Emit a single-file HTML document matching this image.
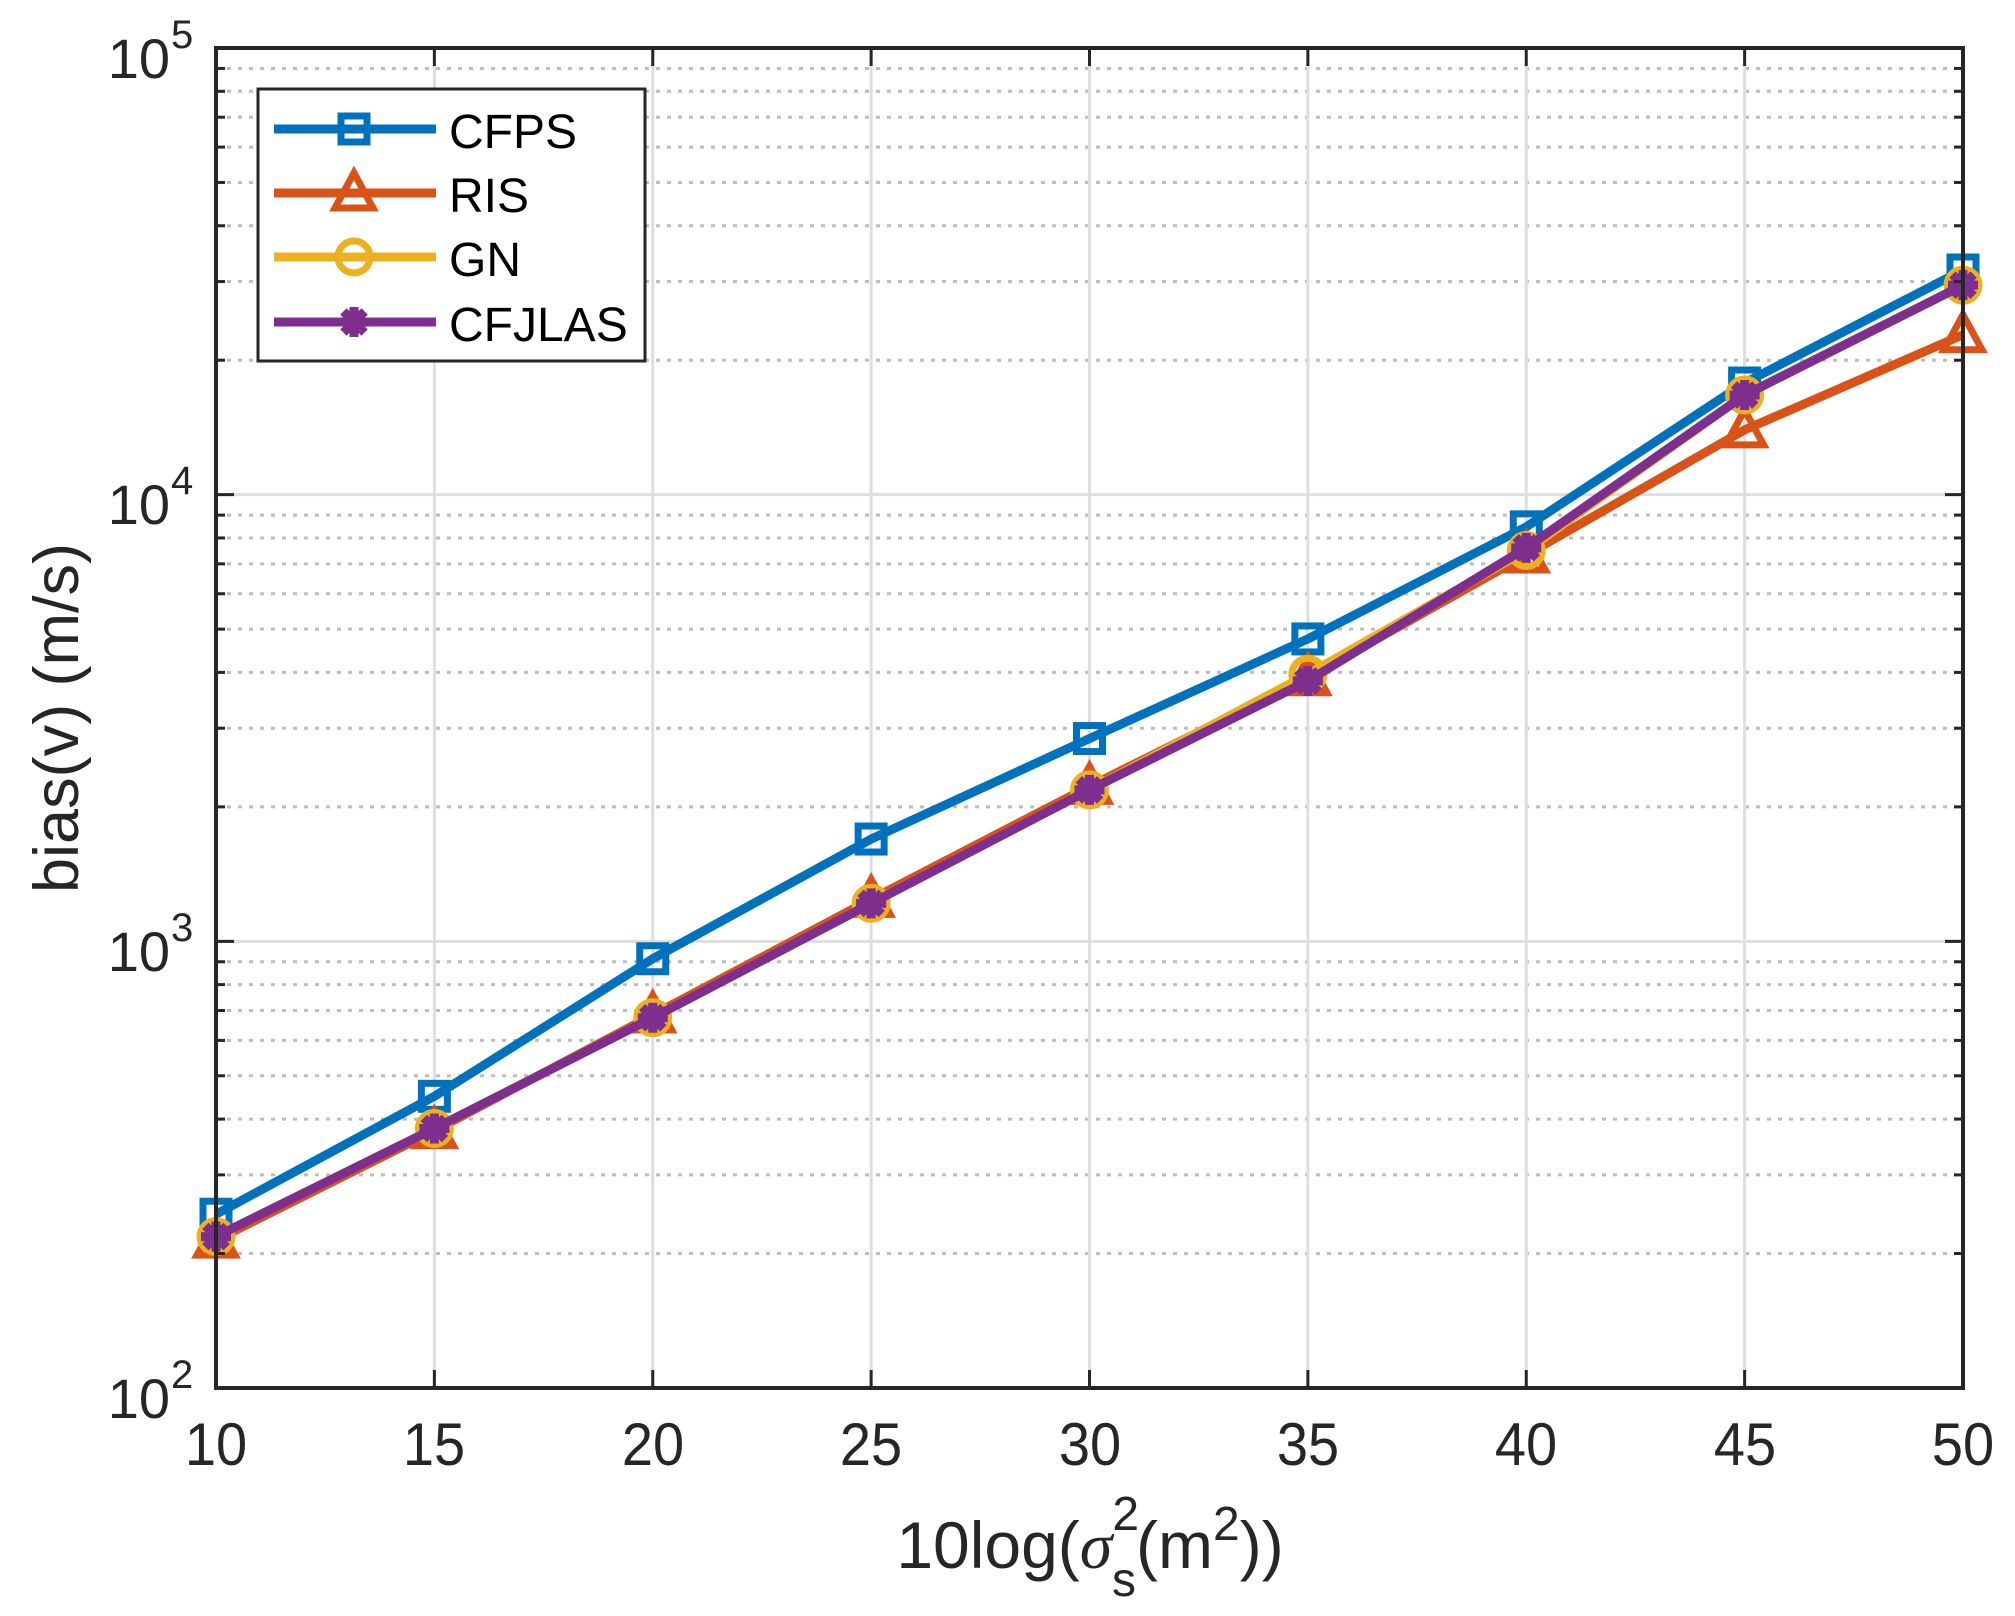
<!DOCTYPE html>
<html><head><meta charset="utf-8"><style>
html,body{margin:0;padding:0;background:#fff;}
svg{display:block;font-family:"Liberation Sans",Arial,sans-serif;}
</style></head><body>
<svg id="s" width="2015" height="1616" viewBox="0 0 2015 1616" xmlns="http://www.w3.org/2000/svg">
<rect width="2015" height="1616" fill="#fff"/>
<g id="grid"></g>
<g id="series"></g>
<g id="axes"></g>
<g id="legend">
<rect x="258" y="89" width="387" height="272" fill="#fff" stroke="#262626" stroke-width="3"/>
</g>
<g fill="#262626" font-size="56">
<g transform="translate(0,1465) scale(1,1.08)">
<text x="216" y="0" text-anchor="middle">10</text>
<text x="434" y="0" text-anchor="middle">15</text>
<text x="653" y="0" text-anchor="middle">20</text>
<text x="871" y="0" text-anchor="middle">25</text>
<text x="1090" y="0" text-anchor="middle">30</text>
<text x="1308" y="0" text-anchor="middle">35</text>
<text x="1526" y="0" text-anchor="middle">40</text>
<text x="1745" y="0" text-anchor="middle">45</text>
<text x="1963" y="0" text-anchor="middle">50</text>
</g>
<text x="170" y="78" text-anchor="end">10</text><text x="171" y="48" font-size="40">5</text>
<text x="170" y="524" text-anchor="end">10</text><text x="171" y="494" font-size="40">4</text>
<text x="170" y="971" text-anchor="end">10</text><text x="171" y="941" font-size="40">3</text>
<text x="170" y="1418" text-anchor="end">10</text><text x="171" y="1388" font-size="40">2</text>
<text x="1090" y="1568" text-anchor="middle" font-size="66">10log(<tspan font-family="Liberation Serif,serif" font-style="italic">σ</tspan><tspan font-size="48" dy="-38">2</tspan><tspan font-size="48" dx="-27" dy="66">s</tspan><tspan dy="-28">(m</tspan><tspan font-size="48" dy="-28">2</tspan><tspan dy="28">))</tspan></text>
<text transform="translate(78,718) rotate(-90)" text-anchor="middle" font-size="63">bias(v) (m/s)</text>
</g>
<g font-size="48" fill="#000">
<text x="449" y="148">CFPS</text>
<text x="449" y="212">RIS</text>
<text x="449" y="276">GN</text>
<text x="449" y="341">CFJLAS</text>
</g>
</svg>
<script>
var L=216,R=1963,T=48,B=1388,D=(B-T)/3;
function X(v){return L+(v-10)/40*(R-L);}
function Y(lg){return T+(5-lg)*D;}
var ns="http://www.w3.org/2000/svg";
function el(p,t,a){var e=document.createElementNS(ns,t);for(var k in a)e.setAttribute(k,a[k]);p.appendChild(e);return e;}
var g=document.getElementById('grid'),ax=document.getElementById('axes'),se=document.getElementById('series'),lg=document.getElementById('legend');
for(var d=2;d<5;d++){for(var m=2;m<=9;m++){var y=Y(d+Math.log10(m));
el(g,'line',{x1:L,x2:R,y1:y,y2:y,stroke:'#bdbdbd','stroke-width':3,'stroke-dasharray':'4 7'});
el(ax,'line',{x1:L,x2:L+9,y1:y,y2:y,stroke:'#262626','stroke-width':3});
el(ax,'line',{x1:R,x2:R-9,y1:y,y2:y,stroke:'#262626','stroke-width':3});}}
for(var d=3;d<5;d++){var y=Y(d);el(g,'line',{x1:L,x2:R,y1:y,y2:y,stroke:'#dedede','stroke-width':3});}
for(var v=15;v<50;v+=5){var x=X(v);el(g,'line',{x1:x,x2:x,y1:T,y2:B,stroke:'#dedede','stroke-width':3});}
for(var d=2;d<=5;d++){var y=Y(d);el(ax,'line',{x1:L,x2:L+18,y1:y,y2:y,stroke:'#262626','stroke-width':3});el(ax,'line',{x1:R,x2:R-18,y1:y,y2:y,stroke:'#262626','stroke-width':3});}
for(var v=10;v<=50;v+=5){var x=X(v);el(ax,'line',{x1:x,x2:x,y1:B,y2:B-18,stroke:'#262626','stroke-width':3});el(ax,'line',{x1:x,x2:x,y1:T,y2:T+18,stroke:'#262626','stroke-width':3});}
el(ax,'rect',{x:L,y:T,width:R-L,height:B-T,fill:'none',stroke:'#262626','stroke-width':4});
var xs=[10,15,20,25,30,35,40,45,50];
var S=[
{c:'#0072BD',m:'sq',d:[2.389,2.653,2.961,3.229,3.454,3.677,3.928,4.250,4.503]},
{c:'#D95319',m:'tri',d:[2.331,2.576,2.835,3.094,3.347,3.590,3.865,4.145,4.358]},
{c:'#EDB120',m:'ci',d:[2.339,2.581,2.829,3.085,3.339,3.598,3.875,4.223,4.469]},
{c:'#7E2F8E',m:'st',d:[2.339,2.581,2.829,3.085,3.339,3.583,3.881,4.223,4.469]}];
function mark(p,t,x,y,c){
if(t=='sq')el(p,'rect',{x:x-13,y:y-13,width:26,height:26,fill:'none',stroke:c,'stroke-width':7});
else if(t=='tri')el(p,'polygon',{points:(x)+','+(y-20)+' '+(x+19)+','+(y+15)+' '+(x-19)+','+(y+15),fill:'none',stroke:c,'stroke-width':7});
else if(t=='ci')el(p,'circle',{cx:x,cy:y,r:16,fill:'none',stroke:c,'stroke-width':7});
else{for(var a=0;a<4;a++){var an=a*Math.PI/4;el(p,'line',{x1:x-15*Math.cos(an),y1:y-15*Math.sin(an),x2:x+15*Math.cos(an),y2:y+15*Math.sin(an),stroke:c,'stroke-width':9});}
el(p,'circle',{cx:x,cy:y,r:10,fill:c});}}
S.forEach(function(s){var pts=xs.map(function(v,i){return X(v)+','+Y(s.d[i]);}).join(' ');
el(se,'polyline',{points:pts,fill:'none',stroke:s.c,'stroke-width':9,'stroke-linejoin':'round'});
xs.forEach(function(v,i){mark(se,s.m,X(v),Y(s.d[i]),s.c);});});
var ly=[129,193,257,322];
S.forEach(function(s,i){el(lg,'line',{x1:274,x2:436,y1:ly[i],y2:ly[i],stroke:s.c,'stroke-width':9});mark(lg,s.m,354,ly[i],s.c);});
</script>
</body></html>
